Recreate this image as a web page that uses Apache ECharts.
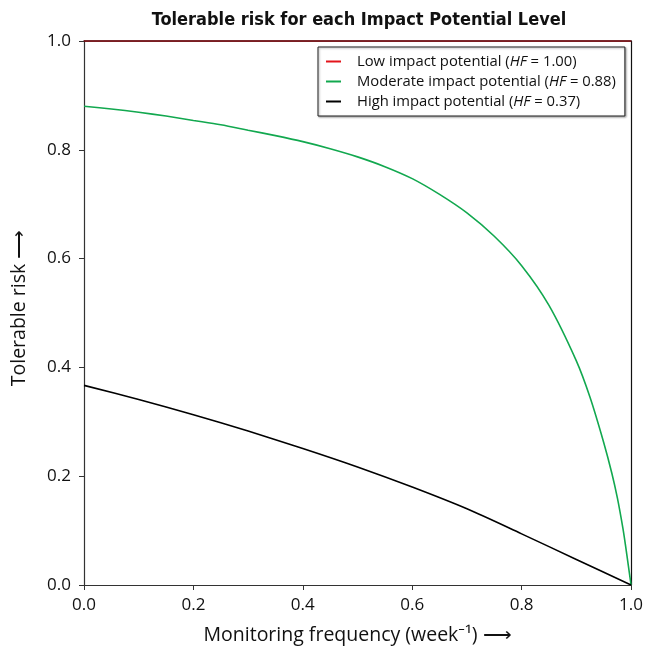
<!DOCTYPE html>
<html>
<head>
<meta charset="utf-8">
<script src="https://cdn.jsdelivr.net/npm/echarts@6/dist/echarts.min.js"></script>
<style>
  html, body { margin: 0; padding: 0; background: #fff; }
  #chart { width: 646px; height: 651px; }
</style>
</head>
<body>
<div id="chart"></div>
<script>
// Monitoring frequency (week^-1) sample points for each curve
const lowX = [0, 1];
const lowY = [1, 1];

const moderateX = [0, 0.05, 0.1, 0.15, 0.2, 0.25, 0.3, 0.35, 0.4, 0.45, 0.5, 0.55, 0.6, 0.65, 0.7, 0.75, 0.8, 0.85, 0.9, 0.925, 0.95, 0.965, 0.975, 0.985, 0.99, 0.995, 1];
const moderateY = [0.880, 0.875, 0.869, 0.862, 0.854, 0.846, 0.836, 0.826, 0.815, 0.802, 0.787, 0.769, 0.747, 0.718, 0.684, 0.641, 0.587, 0.514, 0.412, 0.345, 0.262, 0.205, 0.160, 0.105, 0.072, 0.036, 0];

const highX = [0, 0.1, 0.2, 0.3, 0.4, 0.5, 0.6, 0.7, 0.8, 0.9, 1];
const highY = [0.367, 0.341, 0.313, 0.283, 0.251, 0.217, 0.180, 0.140, 0.094, 0.047, 0];

const seriesNames = ['Low impact potential', 'Moderate impact potential', 'High impact potential'];
const hfLabels = ['1.00', '0.88', '0.37'];
const seriesColors = ['#e3141b', '#12a84f', '#000000'];

const pairs = (xs, ys) => xs.map((x, i) => [x, ys[i]]);

const FONT = '"Open Sans", "Noto Sans", sans-serif';

const chart = echarts.init(document.getElementById('chart'), null, { renderer: 'canvas' });

const legendLabel = {};
seriesNames.forEach((n, i) => { legendLabel[n] = n + ' ({i|HF} = ' + hfLabels[i] + ')'; });

chart.setOption({
  animation: false,
  backgroundColor: '#fff',
  title: {
    text: 'Tolerable risk for each Impact Potential Level',
    left: 354,
    textAlign: 'center',
    top: 6,
    textStyle: { fontFamily: '"Liberation Sans Narrow", "DejaVu Sans Condensed", sans-serif', fontWeight: 'bold', fontSize: 18, color: '#111' }
  },
  grid: { left: 84, right: 12, top: 41, bottom: 66, containLabel: false },
  legend: {
    orient: 'vertical',
    left: 318,
    top: 47,
    padding: [5, 9, 5, 8],
    itemGap: 1,
    itemWidth: 15,
    itemHeight: 2,
    icon: 'rect',
    borderColor: '#222',
    borderWidth: 1,
    backgroundColor: '#fff',
    shadowColor: 'rgba(0,0,0,0.35)',
    shadowBlur: 2,
    shadowOffsetX: 1,
    shadowOffsetY: 1,
    data: seriesNames,
    formatter: (name) => legendLabel[name],
    textStyle: {
      fontFamily: FONT,
      fontSize: 14.8,
      color: '#111',
      lineHeight: 19,
      padding: [0, 0, 0, 11],
      rich: { i: { fontStyle: 'italic', fontFamily: FONT, fontSize: 14.8, color: '#111', lineHeight: 19 } }
    }
  },
  xAxis: [{
    type: 'value',
    min: 0, max: 1, interval: 0.2,
    name: 'Monitoring frequency (week\u207B\u00B9) \u27F6',
    nameLocation: 'middle',
    nameGap: 40,
    nameTextStyle: { fontFamily: FONT, fontSize: 19.5, color: '#111' },
    axisLine: { show: true, onZero: false, lineStyle: { color: '#333', width: 1.2 } },
    axisTick: { show: true, inside: false, length: 5, lineStyle: { color: '#333' } },
    axisLabel: { fontFamily: FONT, fontSize: 17, color: '#111', margin: 12, formatter: (v) => v.toFixed(1) },
    splitLine: { show: false }
  }, {
    type: 'value',
    position: 'top',
    min: 0, max: 1,
    axisLine: { show: true, onZero: false, lineStyle: { color: '#5a0d10', width: 1.5 } },
    axisTick: { show: false },
    axisLabel: { show: false },
    splitLine: { show: false }
  }],
  yAxis: [{
    type: 'value',
    min: 0, max: 1, interval: 0.2,
    name: 'Tolerable risk \u27F6',
    nameLocation: 'middle',
    nameGap: 55,
    nameRotate: 90,
    nameTextStyle: { fontFamily: FONT, fontSize: 19.5, color: '#111', padding: [0, 0, 0, 10] },
    axisLine: { show: true, onZero: false, lineStyle: { color: '#333', width: 1.2 } },
    axisTick: { show: true, inside: false, length: 5, lineStyle: { color: '#333' } },
    axisLabel: { fontFamily: FONT, fontSize: 17, color: '#111', margin: 13, formatter: (v) => v.toFixed(1) },
    splitLine: { show: false }
  }, {
    type: 'value',
    position: 'right',
    min: 0, max: 1,
    axisLine: { show: true, onZero: false, lineStyle: { color: '#111', width: 1.2 } },
    axisTick: { show: false },
    axisLabel: { show: false },
    splitLine: { show: false }
  }],
  series: [
    {
      name: seriesNames[0], type: 'line', data: pairs(lowX, lowY),
      showSymbol: false, symbol: 'none', color: seriesColors[0],
      lineStyle: { width: 1.5, color: 'rgba(120,10,14,0.9)' }, z: 2
    },
    {
      name: seriesNames[1], type: 'line', data: pairs(moderateX, moderateY),
      showSymbol: false, symbol: 'none', smooth: 0.3, color: seriesColors[1],
      lineStyle: { width: 1.6, color: seriesColors[1] }, z: 3
    },
    {
      name: seriesNames[2], type: 'line', data: pairs(highX, highY),
      showSymbol: false, symbol: 'none', smooth: 0.3, color: seriesColors[2],
      lineStyle: { width: 1.6, color: seriesColors[2] }, z: 4
    }
  ]
});
</script>
</body>
</html>
